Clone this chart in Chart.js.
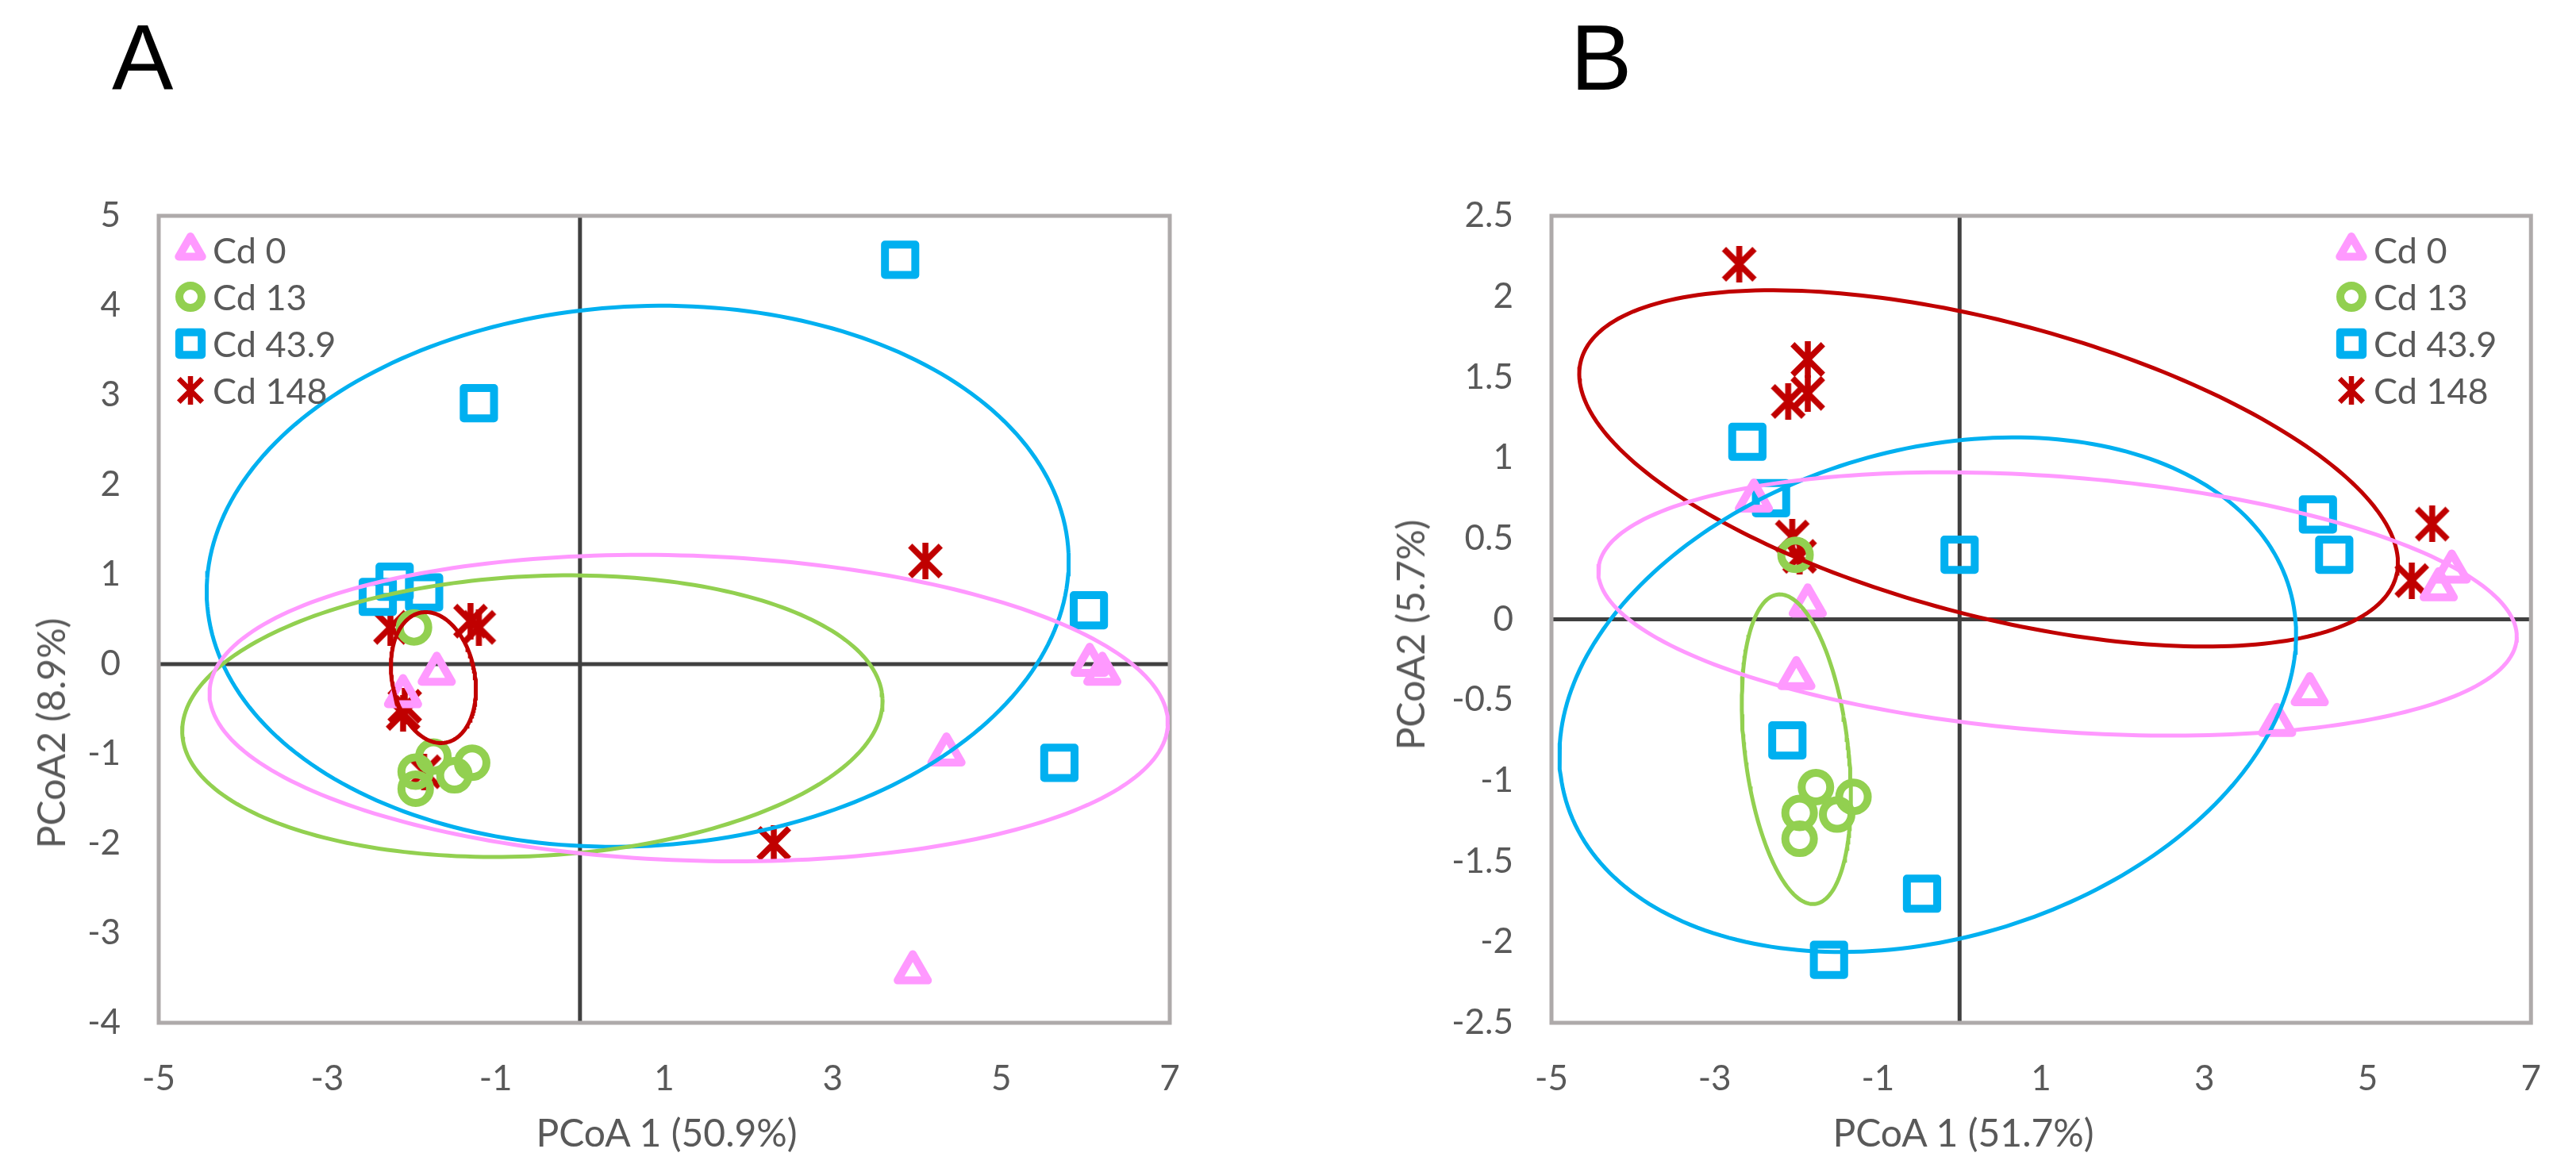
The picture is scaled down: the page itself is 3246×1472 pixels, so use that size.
<!DOCTYPE html>
<html>
<head>
<meta charset="utf-8">
<title>PCoA - Cd treatments</title>
<script src="https://cdn.jsdelivr.net/npm/chart.js@4.4.1/dist/chart.umd.min.js"></script>
<style>
  html, body { margin: 0; padding: 0; background: #fff; }
  #page { position: relative; width: 3246px; height: 1472px; overflow: hidden; background: #fff; }
  #page canvas { position: absolute; top: 0; }
  #chartA { left: 0; }
  #chartB { left: 1600px; }
  .panel { position: absolute; top: 15px; font-family: 'Liberation Sans', Arial, sans-serif; font-size: 116px; line-height: 116px; color: #000; }
  .axis-title { position: absolute; font-family: Lato, sans-serif; font-size: 48px; line-height: 1; color: #595959; white-space: nowrap; transform: translate(-50%, -50%); }
  .axis-title.y { transform: translate(-50%, -50%) rotate(-90deg); }
</style>
</head>
<body>
<div id="page">
  <canvas id="chartA" width="1600" height="1472"></canvas>
  <canvas id="chartB" width="1646" height="1472"></canvas>
  <div class="panel" style="left:141px">A</div>
  <div class="panel" style="left:1979px">B</div>
  <div class="axis-title" style="left:840px; top:1427px">PCoA 1 (50.9%)</div>
  <div class="axis-title y" style="left:64px; top:924px">PCoA2 (8.9%)</div>
  <div class="axis-title" style="left:2474px; top:1427px">PCoA 1 (51.7%)</div>
  <div class="axis-title y" style="left:1777px; top:800px">PCoA2 (5.7%)</div>
</div>
<script>
// series names and colours
var groups = ['Cd 0', 'Cd 13', 'Cd 43.9', 'Cd 148'];
var colors = ['#FF99FF', '#92D050', '#00B0F0', '#C00000'];

// tick labels
var aXTicks = [-5, -3, -1, 1, 3, 5, 7];
var aYTicks = [5, 4, 3, 2, 1, 0, -1, -2, -3, -4];
var bXTicks = [-5, -3, -1, 1, 3, 5, 7];
var bYTicks = [2.5, 2, 1.5, 1, 0.5, 0, -0.5, -1, -1.5, -2, -2.5];

// panel A samples [PCoA 1, PCoA 2]
var aCd0 = [[-1.7, -0.1], [-2.1, -0.35], [6.05, 0.0], [6.2, -0.1], [4.35, -1.0], [3.95, -3.43]];
var aCd13 = [[-1.97, 0.41], [-1.74, -1.03], [-1.28, -1.1], [-1.49, -1.24], [-1.95, -1.2], [-1.95, -1.39]];
var aCd43 = [[3.8, 4.51], [-1.2, 2.91], [-2.2, 0.92], [-2.4, 0.75], [-1.85, 0.8], [6.04, 0.6], [5.69, -1.1]];
var aCd148 = [[-2.25, 0.41], [-1.3, 0.48], [-1.2, 0.41], [-2.08, -0.47], [-2.1, -0.55], [-1.85, -1.2], [4.1, 1.15], [2.3, -2.0]];

// panel A ellipses [centre x, centre y, semi-axis x, semi-axis y, rotation deg]
var aEllCd0 = [1.29, -0.49, 5.69, 1.70, -1.83];
var aEllCd13 = [-0.565, -0.58, 4.16, 1.56, 2.68];
var aEllCd43 = [0.685, 0.98, 5.12, 3.01, 2.9];
var aEllCd148 = [-1.74, -0.15, 0.49, 0.74, 12.6];

// panel B samples
var bCd0 = [[-2.52, 0.74], [-1.86, 0.09], [-2.0, -0.36], [4.29, -0.46], [3.89, -0.65], [6.03, 0.3], [5.87, 0.19]];
var bCd13 = [[-2.01, 0.4], [-1.76, -1.04], [-1.3, -1.1], [-1.5, -1.21], [-1.96, -1.2], [-1.96, -1.36]];
var bCd43 = [[-2.6, 1.1], [-2.31, 0.75], [0.0, 0.4], [-2.11, -0.75], [-0.46, -1.7], [-1.6, -2.11], [4.39, 0.65], [4.59, 0.4]];
var bCd148 = [[-2.7, 2.2], [-1.86, 1.61], [-1.86, 1.4], [-2.1, 1.35], [-2.05, 0.51], [-1.96, 0.39], [5.79, 0.59], [5.54, 0.24]];

// panel B ellipses
var bEllCd0 = [1.2, 0.095, 5.63, 0.79, -2.09];
var bEllCd13 = [-2.0, -0.805, 0.614, 0.995, 19.7];
var bEllCd43 = [-0.39, -0.467, 4.53, 1.544, 5.35];
var bEllCd148 = [0.355, 0.935, 5.05, 0.93, -6.88];

var FONT = 'Lato, sans-serif';
var TEXT = '#595959';

// excel style asterisk marker (x plus vertical bar)
function makeAsterisk(size, lw) {
    var c = document.createElement('canvas');
    var g = c.getContext('2d');
    var p = lw / 2;
    c.width = size;
    c.height = size;
    g.strokeStyle = '#C00000';
    g.lineWidth = lw;
    g.beginPath();
    g.moveTo(p, p);
    g.lineTo(size - p, size - p);
    g.moveTo(size - p, p);
    g.lineTo(p, size - p);
    g.moveTo(size / 2, 0);
    g.lineTo(size / 2, size);
    g.stroke();
    return c;
}

var starPlot = makeAsterisk(46, 7.5);
var starLegend = makeAsterisk(36, 6.5);

var plotStyles = ['triangle', 'circle', 'rect', starPlot];
var plotRadius = [22, 18, 27, 22];
var legendStyles = ['triangle', 'circle', 'rect', starLegend];
var legendRadius = [17, 14, 20, 17];

function toXY(p) {
    return { x: p[0], y: p[1] };
}

// outline of an ellipse, sampled for a line dataset
function ellipsePoints(e) {
    var rot = e[4] * Math.PI / 180;
    var pts = [];
    for (var i = 0; i <= 240; i++) {
        var t = i / 240 * 2 * Math.PI;
        pts.push({
            x: e[0] + e[2] * Math.cos(t) * Math.cos(rot) - e[3] * Math.sin(t) * Math.sin(rot),
            y: e[1] + e[2] * Math.cos(t) * Math.sin(rot) + e[3] * Math.sin(t) * Math.cos(rot)
        });
    }
    return pts;
}

// box around the plot and the two zero axes
var framePlugin = {
    id: 'frame',
    beforeDatasetsDraw: function (chart) {
        var ctx = chart.ctx;
        var a = chart.chartArea;
        var x0 = chart.scales.x.getPixelForValue(0);
        var y0 = chart.scales.y.getPixelForValue(0);

        ctx.save();
        ctx.lineWidth = 5;
        ctx.strokeStyle = '#404040';
        ctx.beginPath();
        ctx.moveTo(x0, a.top);
        ctx.lineTo(x0, a.bottom);
        ctx.moveTo(a.left, y0);
        ctx.lineTo(a.right, y0);
        ctx.stroke();
        ctx.strokeStyle = '#AEAAAA';
        ctx.strokeRect(a.left, a.top, a.right - a.left, a.bottom - a.top);
        ctx.restore();

        // rounded marker corners
        ctx.lineJoin = 'round';
    }
};

// legend inside the plot, one row per group
var legendPlugin = {
    id: 'groupLegend',
    afterDatasetsDraw: function (chart, args, opts) {
        var ctx = chart.ctx;
        ctx.save();
        ctx.font = '45px ' + FONT;
        ctx.textBaseline = 'middle';
        ctx.lineJoin = 'round';
        groups.forEach(function (name, i) {
            var y = opts.top + i * opts.step;
            ctx.strokeStyle = colors[i];
            ctx.fillStyle = 'rgba(0,0,0,0)';
            ctx.lineWidth = 10;
            Chart.helpers.drawPoint(ctx, {
                pointStyle: legendStyles[i],
                radius: legendRadius[i],
                borderWidth: 10,
                rotation: 0
            }, opts.marker, y);
            ctx.fillStyle = TEXT;
            ctx.fillText(name, opts.text, y + 2);
        });
        ctx.restore();
    }
};

function buildChart(id, spec) {
    var datasets = [];

    spec.ellipses.forEach(function (e, i) {
        datasets.push({
            label: groups[i] + ' ellipse',
            data: ellipsePoints(e),
            showLine: true,
            borderColor: colors[i],
            borderWidth: 5,
            pointRadius: 0,
            fill: false,
            order: 0
        });
    });

    spec.points.forEach(function (pts, i) {
        datasets.push({
            label: groups[i],
            data: pts.map(toXY),
            showLine: false,
            pointStyle: plotStyles[i],
            pointRadius: plotRadius[i],
            pointHoverRadius: plotRadius[i],
            pointBorderWidth: i === 3 ? 0 : 10,
            pointBorderColor: colors[i],
            pointBackgroundColor: 'rgba(0,0,0,0)',
            order: 1
        });
    });

    var tickFont = { family: FONT, size: 44 };

    return new Chart(document.getElementById(id), {
        type: 'scatter',
        data: { datasets: datasets },
        options: {
            responsive: false,
            animation: false,
            devicePixelRatio: 1,
            events: [],
            layout: { padding: { left: 0, top: 272, right: spec.padRight, bottom: 0 } },
            plugins: {
                legend: { display: false },
                tooltip: { enabled: false },
                groupLegend: { marker: spec.legendX, text: spec.legendX + 28, top: 315, step: 59 }
            },
            scales: {
                x: {
                    type: 'linear',
                    min: spec.xTicks[0],
                    max: spec.xTicks[spec.xTicks.length - 1],
                    grid: { display: false, drawTicks: false },
                    border: { display: false },
                    afterBuildTicks: function (scale) {
                        scale.ticks = spec.xTicks.map(function (v) { return { value: v }; });
                    },
                    afterFit: function (scale) {
                        scale.height = 183;
                    },
                    ticks: {
                        padding: 44,
                        color: TEXT,
                        font: tickFont,
                        maxRotation: 0,
                        callback: function (v) { return String(v); }
                    }
                },
                y: {
                    type: 'linear',
                    min: spec.yTicks[spec.yTicks.length - 1],
                    max: spec.yTicks[0],
                    grid: { display: false, drawTicks: false },
                    border: { display: false },
                    afterBuildTicks: function (scale) {
                        scale.ticks = spec.yTicks.slice().reverse().map(function (v) { return { value: v }; });
                    },
                    afterFit: function (scale) {
                        scale.width = spec.yWidth;
                    },
                    ticks: {
                        padding: 48,
                        color: TEXT,
                        font: tickFont,
                        callback: function (v) { return String(v); }
                    }
                }
            }
        },
        plugins: [framePlugin, legendPlugin]
    });
}

function drawAll() {
    buildChart('chartA', {
        points: [aCd0, aCd13, aCd43, aCd148],
        ellipses: [aEllCd0, aEllCd13, aEllCd43, aEllCd148],
        xTicks: aXTicks,
        yTicks: aYTicks,
        yWidth: 200,
        padRight: 126,
        legendX: 240
    });
    buildChart('chartB', {
        points: [bCd0, bCd13, bCd43, bCd148],
        ellipses: [bEllCd0, bEllCd13, bEllCd43, bEllCd148],
        xTicks: bXTicks,
        yTicks: bYTicks,
        yWidth: 355,
        padRight: 56,
        legendX: 1363
    });
}

if (document.fonts && document.fonts.load) {
    document.fonts.load('44px Lato').then(drawAll, drawAll);
} else {
    drawAll();
}
</script>
</body>
</html>
